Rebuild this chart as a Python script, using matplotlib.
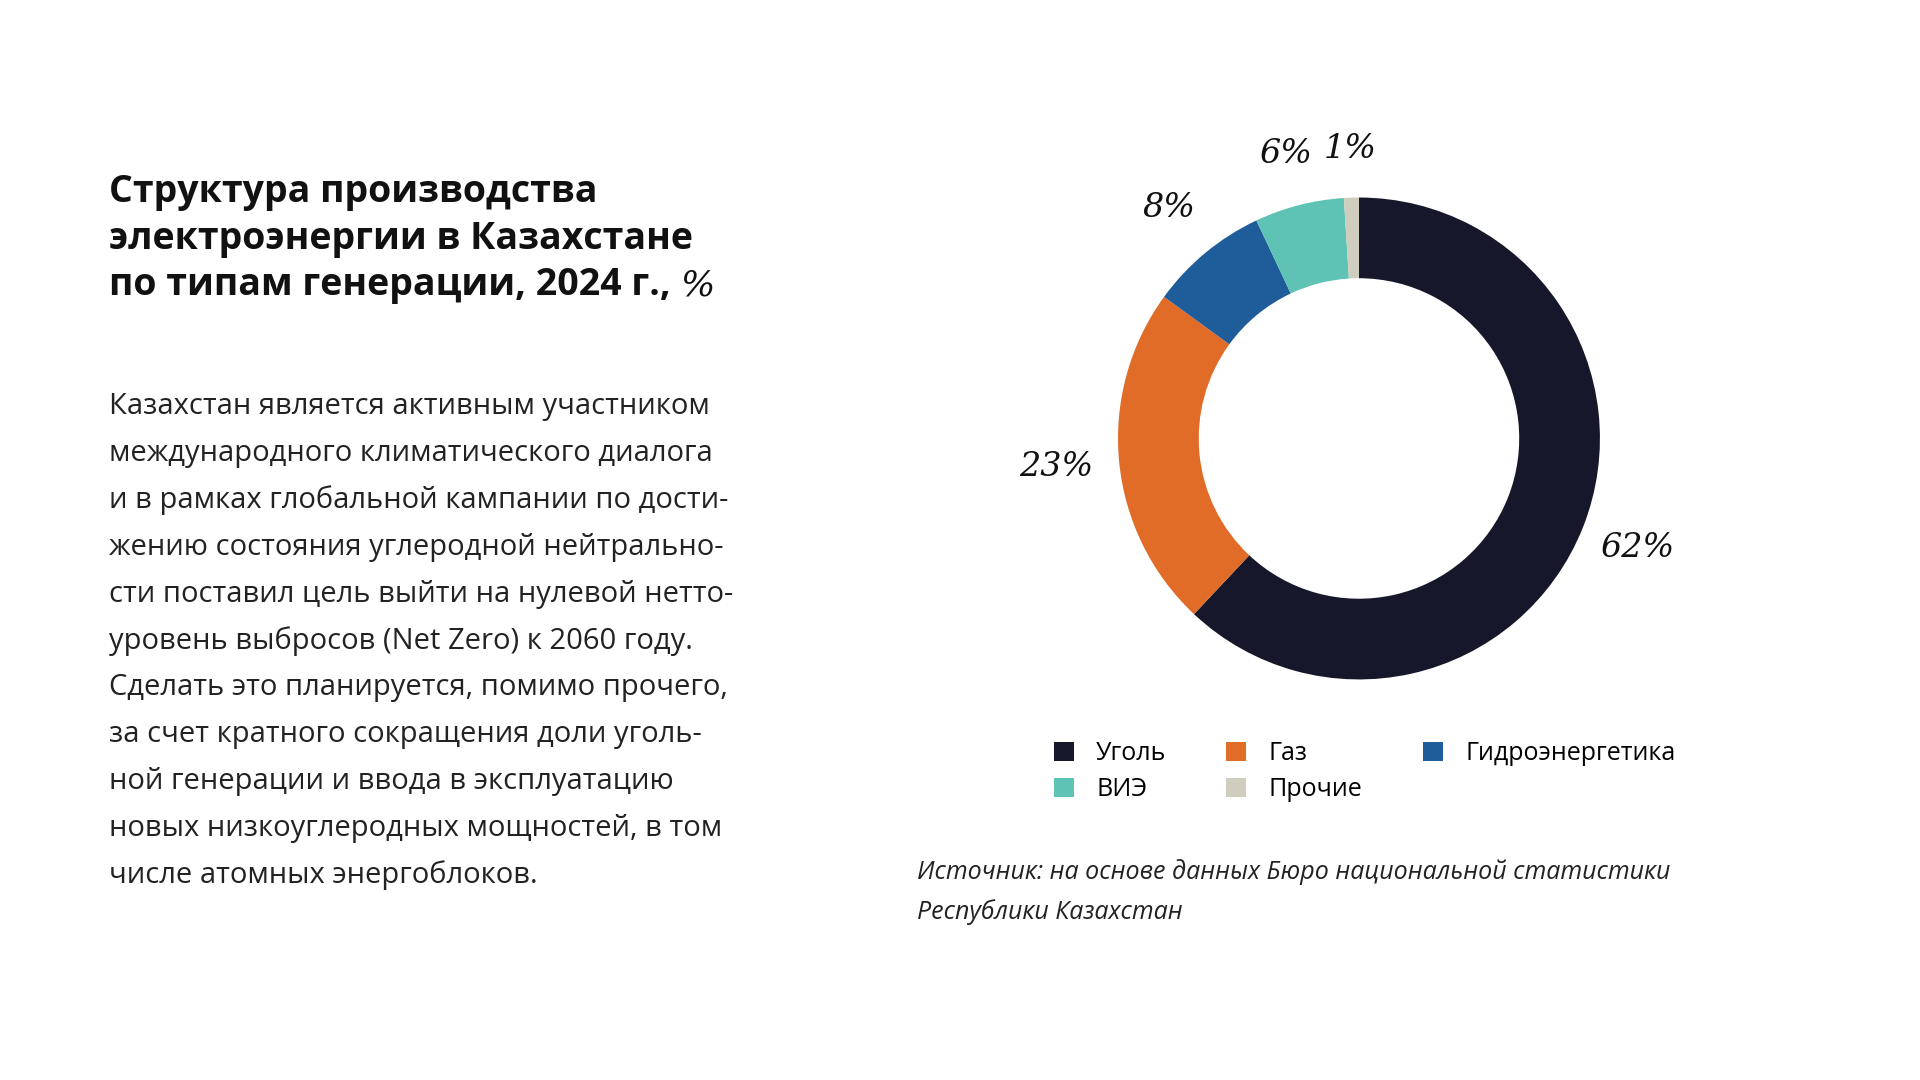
import matplotlib
matplotlib.use("Agg")
import matplotlib.pyplot as plt
from matplotlib.patches import Patch
import numpy as np

labels = ["Уголь", "Газ", "Гидроэнергетика", "ВИЭ", "Прочие"]
values = [62, 23, 8, 6, 1]
colors = ["#17172b", "#e06c28", "#1f5c9a", "#5ec2b5", "#cfcdbd"]

title_lines = ["Структура производства", "электроэнергии в Казахстане", "по типам генерации, 2024 г.,"]
body_lines = [
    "Казахстан является активным участником",
    "международного климатического диалога",
    "и в рамках глобальной кампании по дости-",
    "жению состояния углеродной нейтрально-",
    "сти поставил цель выйти на нулевой нетто-",
    "уровень выбросов (Net Zero) к 2060 году.",
    "Сделать это планируется, помимо прочего,",
    "за счет кратного сокращения доли уголь-",
    "ной генерации и ввода в эксплуатацию",
    "новых низкоуглеродных мощностей, в том",
    "числе атомных энергоблоков.",
]
source_lines = ["Источник: на основе данных Бюро национальной статистики",
                "Республики Казахстан"]

W, H = 1920, 1080
S = 1920 / 1568
fig = plt.figure(figsize=(19.2, 10.8), dpi=100)
fig.patch.set_facecolor("white")
sans = ["Open Sans", "DejaVu Sans"]

def fy(y):
    return 1 - y * S / H

def fx(x):
    return x * S / W

# title
t = None
for i, line in enumerate(title_lines):
    t = fig.text(fx(89), fy(157 + 38 * i), line, fontsize=27, fontweight="bold",
                 family=sans, color="#111111", va="center")
fig.canvas.draw()
bb = t.get_window_extent()
fig.text(bb.x1 / W + 0.005, fy(233), "%", fontsize=26, style="italic",
         family=["DejaVu Serif"], color="#111111", va="center")

for i, line in enumerate(body_lines):
    fig.text(fx(89), fy(332 + 38.3 * i), line, fontsize=21, family=sans,
             color="#222222", va="center")

for i, line in enumerate(source_lines):
    fig.text(fx(749), fy(712 + 33 * i), line, fontsize=18, family=sans,
             style="italic", color="#222222", va="center")

# donut
ax = fig.add_axes([0.507, 0.237, 0.4016, 0.714])
wedges, _ = ax.pie(values, colors=colors, startangle=90, counterclock=False,
                   radius=1, wedgeprops=dict(width=0.335, linewidth=0))
ax.set_xlim(-1.6, 1.6)
ax.set_ylim(-1.6, 1.6)
ax.set_aspect("equal")
ax.axis("off")
dist = [1.24, 1.26, 1.24, 1.22, 1.2]
for w, v, d in zip(wedges, values, dist):
    a = np.deg2rad((w.theta1 + w.theta2) / 2)
    ax.text(d * np.cos(a), d * np.sin(a), f"{v}%", fontsize=24, style="italic",
            family=["DejaVu Serif"], ha="center", va="center", color="#111111")

order = [0, 3, 1, 4, 2]
handles = [Patch(facecolor=colors[i], label=labels[i]) for i in order]
fig.legend(handles=handles, ncol=3, loc="center left",
           bbox_to_anchor=(fx(842), fy(630)), frameon=False,
           prop={"family": sans, "size": 18}, handlelength=0.8, handleheight=0.8,
           columnspacing=2.4, labelspacing=0.45, handletextpad=0.9)

fig.savefig("out.png", dpi=100, facecolor="white")
